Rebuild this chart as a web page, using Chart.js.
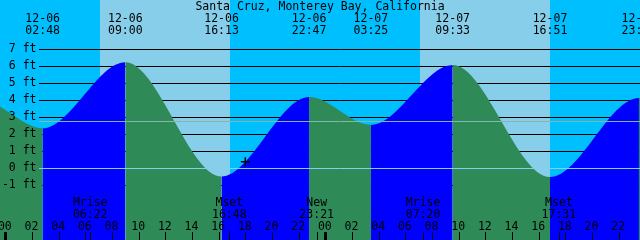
<!DOCTYPE html>
<html>
<head>
<meta charset="utf-8">
<script src="https://cdn.jsdelivr.net/npm/chart.js@4.4.1/dist/chart.umd.min.js"></script>
<style>
  html, body { margin: 0; padding: 0; background: #00bfff; }
  canvas { display: block; }
</style>
</head>
<body>
<canvas id="tideChart" width="640" height="240"></canvas>
<script>
const title = "Santa Cruz, Monterey Bay, California";

// tide extremes (first two and last one are off the window)
const tideTimes = ["12-05 15:35", "12-05 22:05", "12-06 02:48", "12-06 09:00", "12-06 16:13", "12-06 22:47",
                   "12-07 03:25", "12-07 09:33", "12-07 16:51", "12-07 23:31", "12-08 04:15"];
const tideHeights = [-0.4, 4.05, 2.36, 6.25, -0.48, 4.2, 2.56, 6.09, -0.5, 4.15, 2.7];

const sunRise = ["12-06 07:06", "12-07 07:06"];
const sunSet = ["12-06 16:51", "12-07 16:51"];

const moonTimes = ["12-06 06:22", "12-06 16:48", "12-06 23:21", "12-07 07:20", "12-07 17:31"];
const moonNames = ["Mrise", "Mset", "New", "Mrise", "Mset"];

const nowTime = "12-06 18:00";
const nowHeight = 0.4;

const depthTicks = [-1, 0, 1, 2, 3, 4, 5, 6, 7];
const hourTicks = [0, 2, 4, 6, 8, 10, 12, 14, 16, 18, 20, 22, 24, 26, 28, 30, 32, 34, 36, 38, 40, 42, 44, 46];
const datumLevel = 0;
const meanLevel = 2.82;

const dayColor = "#87ceeb";
const nightColor = "#00bfff";
const floodColor = "#0000ff";
const ebbColor = "#2e8b57";
const font = '11.5px "DejaVu Sans Mono", monospace';

// "12-06 02:48" -> hours since 12-06 00:00
const toHours = (s) => {
  const [d, t] = s.split(" ");
  const day = +d.split("-")[1];
  const [hh, mm] = t.split(":").map(Number);
  return (day - 6) * 24 + hh + mm / 60;
};

const tidePlugin = {
  id: "tide",
  beforeDatasetsDraw(chart) {
    const { ctx, chartArea: a, scales: { x, y } } = chart;
    ctx.save();
    ctx.fillStyle = nightColor;
    ctx.fillRect(a.left, a.top, a.width, a.height);
    ctx.fillStyle = dayColor;
    sunRise.forEach((r, i) => {
      const x0 = Math.round(x.getPixelForValue(toHours(r)));
      const x1 = Math.round(x.getPixelForValue(toHours(sunSet[i])));
      ctx.fillRect(x0, a.top, x1 - x0, a.height);
    });
    // depth lines, hidden by the water
    ctx.strokeStyle = "#000";
    ctx.lineWidth = 1;
    depthTicks.forEach((v) => {
      const py = Math.round(y.getPixelForValue(v)) + 0.5;
      ctx.beginPath();
      ctx.moveTo(39, py);
      ctx.lineTo(a.right, py);
      ctx.stroke();
    });
    ctx.restore();
  },
  afterDatasetsDraw(chart) {
    const { ctx, chartArea: a, scales: { x, y } } = chart;
    ctx.save();
    const hline = (v, color) => {
      const py = Math.round(y.getPixelForValue(v)) + 0.5;
      ctx.strokeStyle = color;
      ctx.beginPath();
      ctx.moveTo(39, py);
      ctx.lineTo(a.right, py);
      ctx.stroke();
    };
    ctx.lineWidth = 1;
    hline(meanLevel, "#8db3a5");
    hline(datumLevel, dayColor);

    // tick marks along the bottom
    ctx.strokeStyle = "#000";
    const tick = (h, w) => {
      const p = Math.round(x.getPixelForValue(h));
      const px = w % 2 ? p + 0.5 : p;
      ctx.lineWidth = w;
      ctx.beginPath();
      ctx.moveTo(px, 232);
      ctx.lineTo(px, a.bottom);
      ctx.stroke();
    };
    hourTicks.forEach((h) => tick(h, h % 24 === 0 ? 3 : 1));
    moonTimes.forEach((m) => tick(toHours(m), 1));

    // text
    ctx.fillStyle = "#000";
    ctx.font = font;
    ctx.textAlign = "center";
    ctx.textBaseline = "alphabetic";
    ctx.fillText(title, chart.width / 2, 9.5);
    tideTimes.forEach((t) => {
      const h = toHours(t);
      if (h < x.min || h > x.max) return;
      const px = x.getPixelForValue(h);
      const [d, c] = t.split(" ");
      ctx.fillText(d, px, 21.5);
      ctx.fillText(c, px, 33.5);
    });
    moonTimes.forEach((m, i) => {
      const px = x.getPixelForValue(toHours(m));
      ctx.fillText(moonNames[i], px, 206);
      ctx.fillText(m.split(" ")[1], px, 217.5);
    });
    hourTicks.forEach((h) => {
      ctx.fillText(String(h % 24).padStart(2, "0"), x.getPixelForValue(h) - 0.5, 229.5);
    });
    ctx.textAlign = "right";
    ctx.textBaseline = "middle";
    depthTicks.forEach((v) => {
      ctx.fillText(v + " ft", 36.5, Math.round(y.getPixelForValue(v)) + 0.5);
    });
    ctx.restore();
  }
};

new Chart(document.getElementById("tideChart"), {
  data: {
    datasets: [
      {
        type: "scatter",
        data: [{ x: toHours(nowTime), y: nowHeight }],
        pointStyle: "cross",
        pointRadius: 4.5,
        borderColor: "#000",
        borderWidth: 1.5,
      },
      {
        type: "line",
        data: tideTimes.map((t, i) => ({ x: toHours(t), y: tideHeights[i] })),
        borderColor: "transparent",
        borderWidth: 0,
        pointRadius: 0,
        fill: "start",
        backgroundColor: floodColor,
        cubicInterpolationMode: "monotone",
        segment: {
          backgroundColor: (c) => (c.p1.parsed.y > c.p0.parsed.y ? floodColor : ebbColor),
        },
      },
    ],
  },
  options: {
    responsive: false,
    devicePixelRatio: 1,
    animation: false,
    events: [],
    layout: { padding: 0, autoPadding: false },
    elements: { line: { capBezierPoints: false } },
    plugins: { legend: { display: false }, tooltip: { enabled: false } },
    scales: {
      x: { type: "linear", display: false, min: -0.4, max: 47.6 },
      y: { type: "linear", display: false, min: -4.21, max: 9.91 },
    },
  },
  plugins: [tidePlugin],
});
</script>
</body>
</html>
